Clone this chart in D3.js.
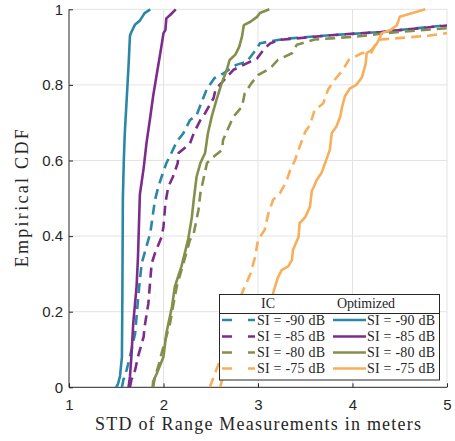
<!DOCTYPE html>
<html>
<head>
<meta charset="utf-8">
<script src="https://cdn.jsdelivr.net/npm/d3@7"></script>
<style>
  body { margin: 0; background: #fff; }
  .tick-label { font-family: "Liberation Sans", Arial, sans-serif; font-size: 15px; fill: #262626; }
  .serif { font-family: "Liberation Serif", "Times New Roman", serif; fill: #262626; }
</style>
</head>
<body>
<svg id="chart" width="455" height="441"></svg>
<script>
// CDF samples, [STD in meters, cumulative probability]
var ic90 = [[1.56,0],[1.575,0.019],[1.61,0.046],[1.645,0.081],[1.70,0.143],[1.715,0.187],[1.73,0.231],[1.75,0.284],[1.77,0.329],[1.80,0.355],[1.86,0.408],[1.875,0.434],[1.91,0.496],[1.945,0.53],[1.98,0.557],[2.03,0.593],[2.09,0.623],[2.14,0.65],[2.21,0.672],[2.28,0.707],[2.35,0.72],[2.42,0.765],[2.46,0.79],[2.54,0.818],[2.63,0.83],[2.77,0.853],[2.88,0.861],[2.99,0.897],[3.02,0.91],[3.21,0.919],[3.34,0.923],[3.8,0.932],[4.3,0.94],[5.0,0.958]];
var ic85 = [[1.645,0],[1.66,0.019],[1.70,0.046],[1.73,0.081],[1.79,0.134],[1.80,0.16],[1.84,0.222],[1.86,0.284],[1.875,0.328],[1.91,0.355],[1.98,0.398],[2.00,0.425],[2.02,0.487],[2.05,0.53],[2.10,0.557],[2.15,0.593],[2.16,0.62],[2.28,0.645],[2.32,0.672],[2.39,0.707],[2.44,0.725],[2.53,0.765],[2.55,0.787],[2.67,0.821],[2.74,0.84],[2.88,0.857],[2.99,0.87],[3.07,0.897],[3.13,0.91],[3.23,0.919],[3.8,0.932],[4.3,0.94],[5.0,0.957]];
var ic80 = [[1.89,0],[1.91,0.028],[1.945,0.055],[1.98,0.09],[2.03,0.134],[2.07,0.17],[2.10,0.213],[2.14,0.266],[2.19,0.31],[2.23,0.345],[2.28,0.39],[2.32,0.407],[2.37,0.469],[2.39,0.513],[2.42,0.548],[2.46,0.593],[2.51,0.606],[2.62,0.628],[2.63,0.654],[2.70,0.694],[2.74,0.716],[2.83,0.742],[2.86,0.778],[2.93,0.804],[3.00,0.826],[3.13,0.844],[3.21,0.866],[3.36,0.884],[3.41,0.906],[3.6,0.92],[4.05,0.928],[4.35,0.937],[4.7,0.944],[5.0,0.95]];
var ic75 = [[2.49,0],[2.52,0.02],[2.58,0.06],[2.68,0.15],[2.80,0.22],[2.83,0.249],[2.86,0.266],[2.92,0.30],[2.97,0.345],[3.00,0.39],[3.07,0.416],[3.11,0.46],[3.16,0.496],[3.23,0.513],[3.30,0.544],[3.34,0.574],[3.39,0.60],[3.44,0.636],[3.50,0.676],[3.55,0.694],[3.60,0.734],[3.69,0.751],[3.74,0.787],[3.80,0.81],[3.90,0.84],[3.96,0.866],[4.10,0.884],[4.20,0.886],[4.26,0.915],[4.30,0.92],[4.8,0.93],[5.0,0.937]];
var opt90 = [[1.50,0],[1.52,0.01],[1.54,0.03],[1.56,0.08],[1.565,0.25],[1.57,0.5],[1.58,0.6],[1.59,0.67],[1.61,0.76],[1.63,0.85],[1.645,0.93],[1.66,0.94],[1.70,0.96],[1.75,0.97],[1.80,0.99],[1.86,1.0]];
var opt85 = [[1.63,0],[1.645,0.028],[1.66,0.08],[1.68,0.17],[1.715,0.266],[1.73,0.345],[1.75,0.51],[1.79,0.58],[1.82,0.646],[1.86,0.715],[1.89,0.77],[1.93,0.83],[1.97,0.89],[2.0,0.937],[2.02,0.945],[2.03,0.976],[2.07,0.985],[2.13,1.0]];
var opt80 = [[1.885,0],[1.89,0.015],[1.93,0.037],[2.00,0.081],[2.03,0.143],[2.09,0.213],[2.12,0.266],[2.19,0.32],[2.26,0.39],[2.30,0.45],[2.32,0.496],[2.35,0.557],[2.39,0.593],[2.44,0.62],[2.47,0.672],[2.51,0.716],[2.56,0.76],[2.61,0.80],[2.67,0.84],[2.70,0.866],[2.76,0.88],[2.80,0.90],[2.83,0.927],[2.85,0.958],[2.92,0.967],[2.99,0.98],[3.02,0.99],[3.12,1.0]];
var opt75 = [[2.60,0],[2.63,0.03],[2.75,0.08],[2.95,0.15],[3.10,0.21],[3.16,0.249],[3.18,0.266],[3.21,0.29],[3.25,0.31],[3.32,0.32],[3.36,0.337],[3.37,0.363],[3.43,0.398],[3.44,0.434],[3.50,0.45],[3.55,0.478],[3.57,0.52],[3.59,0.53],[3.62,0.548],[3.67,0.566],[3.71,0.593],[3.76,0.628],[3.78,0.672],[3.83,0.69],[3.87,0.716],[3.89,0.742],[3.92,0.77],[3.97,0.79],[4.04,0.80],[4.10,0.82],[4.14,0.857],[4.15,0.884],[4.20,0.892],[4.26,0.91],[4.31,0.937],[4.40,0.945],[4.47,0.958],[4.50,0.98],[4.77,1.0]];

var siLabels = ["SI = -90 dB", "SI = -85 dB", "SI = -80 dB", "SI = -75 dB"];
var colors = ["#2b87a8", "#7d2c8c", "#848f4c", "#f8ae5a"];
var xTicks = [1, 2, 3, 4, 5];
var yTicks = [0, 0.2, 0.4, 0.6, 0.8, 1];

var icSeries = [ic90, ic85, ic80, ic75];
var optSeries = [opt90, opt85, opt80, opt75];

var pLeft = 69, pRight = 447, pTop = 9.3, pBottom = 387.3;

var x = d3.scaleLinear().domain([1, 5]).range([pLeft, pRight]);
var y = d3.scaleLinear().domain([0, 1]).range([pBottom, pTop]);

var svg = d3.select("#chart");

svg.append("clipPath").attr("id", "plotClip")
	.append("rect")
	.attr("x", pLeft).attr("y", pTop - 2)
	.attr("width", pRight - pLeft).attr("height", pBottom - pTop + 2);

// grid
svg.append("g").selectAll("line")
	.data(xTicks.slice(1))
	.enter().append("line")
	.attr("x1", function(d) { return x(d); })
	.attr("x2", function(d) { return x(d); })
	.attr("y1", pTop).attr("y2", pBottom)
	.attr("stroke", "#e3e3e3").attr("stroke-width", 1);

svg.append("g").selectAll("line")
	.data(yTicks.slice(1))
	.enter().append("line")
	.attr("x1", pLeft).attr("x2", pRight)
	.attr("y1", function(d) { return y(d); })
	.attr("y2", function(d) { return y(d); })
	.attr("stroke", "#e3e3e3").attr("stroke-width", 1);

// axes
var xAxis = d3.axisBottom(x).tickValues(xTicks).tickSize(-4).tickFormat(d3.format("d"));
var yAxis = d3.axisLeft(y).tickValues(yTicks).tickSize(-4).tickFormat(function(d) { return d === 0 || d === 1 ? d : d3.format(".1f")(d); });

var gx = svg.append("g").attr("transform", "translate(0," + pBottom + ")").call(xAxis);
gx.select(".domain").remove();
gx.selectAll(".tick line").attr("stroke", "#262626");
gx.selectAll(".tick text").attr("class", "tick-label").attr("font-family", null).attr("font-size", null)
	.attr("y", 12).attr("dy", "0.71em");

var gy = svg.append("g").attr("transform", "translate(" + pLeft + ",0)").call(yAxis);
gy.select(".domain").remove();
gy.selectAll(".tick line").attr("stroke", "#262626");
gy.selectAll(".tick text").attr("class", "tick-label").attr("font-family", null).attr("font-size", null)
	.attr("x", -6);

svg.append("line").attr("x1", pLeft).attr("x2", pRight).attr("y1", pBottom).attr("y2", pBottom)
	.attr("stroke", "#262626").attr("stroke-width", 1);
svg.append("line").attr("x1", pLeft).attr("x2", pLeft).attr("y1", pTop).attr("y2", pBottom)
	.attr("stroke", "#262626").attr("stroke-width", 1);

// curves
var line = d3.line()
	.x(function(d) { return x(d[0]); })
	.y(function(d) { return y(d[1]); });

var plot = svg.append("g").attr("clip-path", "url(#plotClip)");

icSeries.forEach(function(s, i) {
	plot.append("path")
		.attr("d", line(s))
		.attr("fill", "none")
		.attr("stroke", colors[i])
		.attr("stroke-width", 2.6)
		.attr("stroke-dasharray", "10,6");
});

optSeries.forEach(function(s, i) {
	plot.append("path")
		.attr("d", line(s))
		.attr("fill", "none")
		.attr("stroke", colors[i])
		.attr("stroke-width", 2.6)
		.attr("stroke-linejoin", "round");
});

// axis labels
svg.append("text").attr("class", "serif")
	.attr("x", 258).attr("y", 430)
	.attr("text-anchor", "middle")
	.attr("font-size", 18)
	.attr("textLength", 326).attr("lengthAdjust", "spacing")
	.text("STD of Range Measurements in meters");

svg.append("text").attr("class", "serif")
	.attr("transform", "translate(28," + ((pTop + pBottom) / 2) + ") rotate(-90)")
	.attr("text-anchor", "middle")
	.attr("font-size", 18)
	.attr("textLength", 138).attr("lengthAdjust", "spacing")
	.text("Empirical CDF");

// legend
var lg = svg.append("g");
lg.append("rect")
	.attr("x", 219.5).attr("y", 294.5)
	.attr("width", 220).attr("height", 85.5)
	.attr("fill", "#fff").attr("stroke", "#262626").attr("stroke-width", 1);
lg.append("line")
	.attr("x1", 219.5).attr("x2", 439.5).attr("y1", 313.5).attr("y2", 313.5)
	.attr("stroke", "#262626").attr("stroke-width", 1);
lg.append("text").attr("class", "serif").attr("font-size", 14)
	.attr("x", 268).attr("y", 307.5).attr("text-anchor", "middle").text("IC");
lg.append("text").attr("class", "serif").attr("font-size", 14)
	.attr("x", 366).attr("y", 307.5).attr("text-anchor", "middle")
	.attr("textLength", 58).attr("lengthAdjust", "spacing").text("Optimized");

var rowY = [320, 336.5, 352.5, 368.5];
siLabels.forEach(function(label, i) {
	lg.append("line")
		.attr("x1", 222).attr("x2", 255).attr("y1", rowY[i]).attr("y2", rowY[i])
		.attr("stroke", colors[i]).attr("stroke-width", 2.6)
		.attr("stroke-dasharray", "10,16");
	lg.append("text").attr("class", "serif").attr("font-size", 14)
		.attr("x", 257).attr("y", rowY[i] + 4.5)
		.attr("textLength", 68).attr("lengthAdjust", "spacing").text(label);
	lg.append("line")
		.attr("x1", 333).attr("x2", 366).attr("y1", rowY[i]).attr("y2", rowY[i])
		.attr("stroke", colors[i]).attr("stroke-width", 2.6);
	lg.append("text").attr("class", "serif").attr("font-size", 14)
		.attr("x", 367).attr("y", rowY[i] + 4.5)
		.attr("textLength", 68).attr("lengthAdjust", "spacing").text(label);
});
</script>
</body>
</html>
